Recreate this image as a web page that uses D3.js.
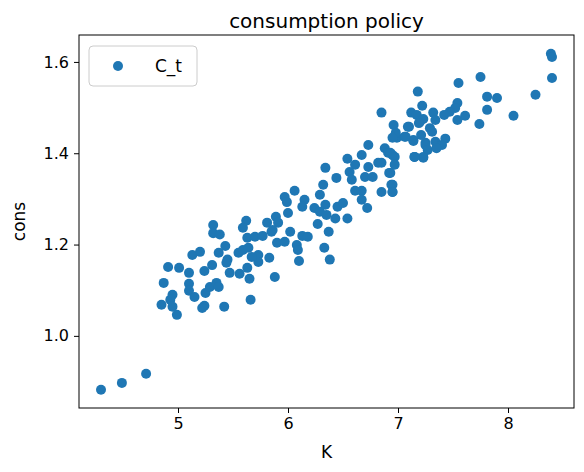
<!DOCTYPE html>
<html><head><meta charset="utf-8">
<script src="https://cdn.jsdelivr.net/npm/d3@7"></script>
<style>body{margin:0;background:#fff}text{font-family:"DejaVu Sans",sans-serif}</style>
</head><body><svg id="chart" width="584" height="472"></svg>
<script>
// capital K and consumption C_t
const kVals = [4.30,4.49,4.71,4.85,4.87,4.91,5.01,4.95,4.93,4.95,4.99,5.10,5.10,5.10,5.15,5.13,5.20,5.24,5.31,5.24,5.22,5.25,5.29,5.35,5.37,5.32,5.32,5.38,5.37,5.43,5.45,5.44,5.47,5.42,5.56,5.63,5.65,5.66,5.55,5.59,5.64,5.63,5.62,5.59,5.70,5.73,5.73,5.77,5.83,5.81,5.89,5.88,5.85,5.90,
6.96,7.10,7.20,6.99,7.06,7.14,7.25,6.73,6.88,6.91,6.95,7.15,7.23,6.67,6.54,6.82,6.73,6.61,6.56,6.34,6.70,6.77,6.93,6.58,6.44,6.32,6.95,6.95,6.85,6.61,6.67,6.06,6.29,6.67,6.72,5.97,5.99,6.15,6.13,6.24,6.34,6.45,6.50,6.00,6.29,6.35,6.43,6.54,6.27,6.37,5.91,5.86,6.02,6.13,6.18,5.97,6.08,6.09,6.33,6.10,6.38,5.67,
8.39,8.40,8.40,8.25,8.05,7.75,7.55,7.18,7.81,7.90,7.81,7.74,7.54,7.52,7.61,7.54,7.47,7.42,7.32,7.22,7.12,7.17,7.23,7.19,7.34,6.85,7.29,7.09,6.98,6.95,7.07,7.14,7.21,7.31,7.43,7.25,7.34,7.40,7.27,7.35,6.93,6.97,7.23,7.15,6.85,6.97,6.92,6.94,6.95];
const cVals = [0.882,0.897,0.917,1.068,1.116,1.151,1.149,1.090,1.079,1.064,1.046,1.138,1.114,1.099,1.085,1.177,1.184,1.142,1.155,1.066,1.061,1.094,1.107,1.116,1.107,1.243,1.225,1.222,1.182,1.197,1.167,1.160,1.138,1.064,1.136,1.149,1.125,1.079,1.182,1.188,1.193,1.215,1.252,1.237,1.217,1.177,1.162,1.219,1.171,1.248,1.261,1.129,1.228,1.204,
1.462,1.458,1.469,1.434,1.436,1.429,1.423,1.418,1.411,1.401,1.396,1.392,1.392,1.396,1.388,1.379,1.370,1.375,1.359,1.368,1.348,1.348,1.357,1.342,1.346,1.331,1.331,1.315,1.315,1.318,1.318,1.318,1.309,1.298,1.280,1.304,1.293,1.298,1.283,1.280,1.287,1.283,1.291,1.269,1.272,1.265,1.257,1.257,1.245,1.228,1.248,1.232,1.228,1.219,1.217,1.206,1.199,1.188,1.193,1.164,1.167,1.173,
1.618,1.611,1.565,1.528,1.482,1.567,1.554,1.535,1.524,1.521,1.495,1.464,1.510,1.499,1.482,1.473,1.491,1.484,1.489,1.504,1.489,1.484,1.475,1.466,1.473,1.489,1.455,1.458,1.445,1.434,1.436,1.427,1.440,1.447,1.432,1.418,1.425,1.418,1.407,1.411,1.401,1.392,1.390,1.392,1.379,1.375,1.357,1.331,1.315];
const xTicks = [5,6,7,8];
const yTicks = [1.0,1.2,1.4,1.6];

const margin = {top: 35, right: 10, bottom: 64, left: 79};
const W = 584, H = 472;
const svg = d3.select("#chart");
const x = d3.scaleLinear().domain([4.1, 8.6]).range([margin.left, W - margin.right]);
const y = d3.scaleLinear().domain([0.842, 1.659]).range([H - margin.bottom, margin.top]);

svg.append("g").selectAll("circle")
  .data(kVals.map((k, i) => [k, cVals[i]]))
  .enter().append("circle")
  .attr("cx", d => x(d[0])).attr("cy", d => y(d[1]))
  .attr("r", 5).attr("fill", "#1f77b4");

const xa = svg.append("g").attr("transform", `translate(0,${H - margin.bottom})`)
  .call(d3.axisBottom(x).tickValues(xTicks).tickSize(5).tickPadding(5).tickFormat(d3.format("d")));
const ya = svg.append("g").attr("transform", `translate(${margin.left},0)`)
  .call(d3.axisLeft(y).tickValues(yTicks).tickSize(5).tickPadding(5).tickFormat(d3.format(".1f")));
[xa, ya].forEach(a => {
  a.selectAll("text").attr("font-size", 16).attr("fill", "#000").style("font-family", "DejaVu Sans");
  a.selectAll("line").attr("stroke", "#000");
  a.select(".domain").remove();
});
svg.append("rect").attr("x", margin.left).attr("y", margin.top)
  .attr("width", W - margin.left - margin.right).attr("height", H - margin.top - margin.bottom)
  .attr("fill", "none").attr("stroke", "#000").attr("stroke-width", 1);

svg.append("text").attr("x", (margin.left + W - margin.right) / 2).attr("y", 28)
  .attr("text-anchor", "middle").attr("font-size", 20).text("consumption policy");
svg.append("text").attr("x", (margin.left + W - margin.right) / 2).attr("y", 458)
  .attr("text-anchor", "middle").attr("font-size", 17).text("K");
svg.append("text").attr("transform", `translate(25,${(margin.top + H - margin.bottom) / 2}) rotate(-90)`)
  .attr("text-anchor", "middle").attr("font-size", 17).text("cons");

// legend
const lg = svg.append("g");
lg.append("rect").attr("x", 89).attr("y", 46).attr("width", 108).attr("height", 40).attr("rx", 4)
  .attr("fill", "#fff").attr("fill-opacity", 0.8).attr("stroke", "#ccc");
lg.append("circle").attr("cx", 118).attr("cy", 66).attr("r", 5).attr("fill", "#1f77b4");
lg.append("text").attr("x", 155).attr("y", 72).attr("font-size", 17).text("C_t");
</script></body></html>
